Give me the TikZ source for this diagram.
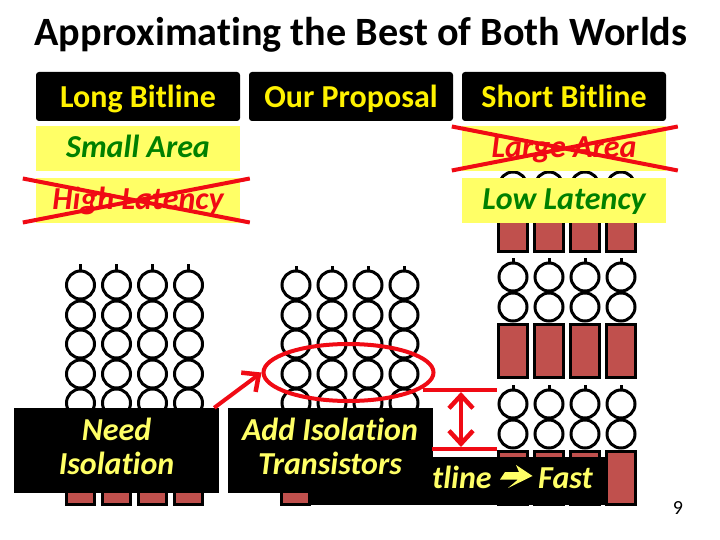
\documentclass[tikz,border=0pt]{standalone}
\usepackage{fontspec}
\setmainfont[RawFeature=-liga]{Carlito}
\usepackage{xcolor}
\usetikzlibrary{arrows.meta, shapes.geometric}
\definecolor{lemon}{HTML}{FFFF66}
\definecolor{cellred}{HTML}{C0504D}
\definecolor{crossred}{HTML}{F00A14}
\definecolor{okgreen}{HTML}{008000}

\begin{document}
\begin{tikzpicture}[
  x=1pt, y=-1pt,
  head/.style={fill=black, text=yellow, rounded corners=3pt, minimum width=204pt, minimum height=49pt, inner sep=0pt, text height=26pt, text depth=3pt, font=\fontsize{32}{36}\selectfont\bfseries},
  verdict/.style={fill=lemon, minimum width=204pt, minimum height=45pt, inner sep=0pt, text height=23pt, text depth=4pt, font=\fontsize{32}{36}\selectfont\bfseries\itshape},
  good/.style={verdict, text=okgreen},
  bad/.style={verdict, text=crossred},
  notebox/.style={fill=black, minimum width=205pt, minimum height=85pt, inner sep=0pt},
  note/.style={text=lemon, inner sep=0pt, align=center, font=\fontsize{32}{34}\selectfont\bfseries\itshape},
  cell/.style={draw=black, line width=3pt, circle, fill=white, minimum size=28pt, inner sep=0pt},
  sense/.style={draw=black, line width=3pt, fill=cellred, inner sep=0pt, minimum width=28.5pt},
  strike/.style={draw=crossred, line width=4pt},
  >={Straight Barb[length=13pt, width=24pt, line width=4.5pt]}
]
\useasboundingbox (0,0) rectangle (720,540);
\fill[white] (0,0) rectangle (720,540);

\node[font=\fontsize{40.2}{44}\selectfont\bfseries] (title) at (361,35) {Approximating the Best of Both Worlds};

% left column
\foreach \i/\x in {1/80.5,2/116.5,3/152.5,4/188.5} {
  \draw[line width=3pt] (\x,264) -- (\x,272);
  \foreach \j/\y in {1/285,2/315,3/344,4/374,5/403,6/433,7/462} {
    \node[cell] (l\i\j) at (\x,\y) {};
  }
  \node[sense, minimum height=28pt] (ls\i) at (\x,490) {};
}

% middle column
\foreach \i/\x in {1/296,2/332,3/368,4/404} {
  \draw[line width=3pt] (\x,266) -- (\x,272);
  \foreach \j/\y in {1/285,2/315,3/344,4/374,5/403,6/433} {
    \node[cell] (m\i\j) at (\x,\y) {};
  }
}

% right column
\foreach \i/\x in {1/513,2/549,3/585,4/621} {
  \node[cell] (r\i0) at (\x,186) {};
  \node[sense, minimum height=53pt] (ra\i) at (\x,225) {};
  \draw[line width=3pt] (\x,258) -- (\x,264);
  \node[cell] (r\i1) at (\x,277) {};
  \node[cell] (r\i2) at (\x,307) {};
  \node[sense, minimum height=53pt] (rb\i) at (\x,351) {};
  \draw[line width=3pt] (\x,385) -- (\x,391);
  \node[cell] (r\i3) at (\x,404) {};
  \node[cell] (r\i4) at (\x,434) {};
  \node[sense, minimum height=53pt] (rc\i) at (\x,477.5) {};
}

\node[head] (long) at (138,96.5) {Long Bitline};
\node[head] (ours) at (351,96.5) {Our Proposal};
\node[head] (short) at (564,96.5) {Short Bitline};

\node[good] (small) at (138,148.5) {Small Area};
\node[bad] (high) at (138,200.5) {High Latency};
\node[bad] (large) at (564,148.5) {Large Area};
\node[good] (low) at (564,200.5) {Low Latency};

\draw[strike] (high.west) ++(-13,-22) coordinate (ha) -- ++(227,44) coordinate (hb);
\draw[strike] (high.west) ++(-13,22) coordinate (hc) -- ++(227,-44) coordinate (hd);
\draw[strike] (large.west) ++(-10,-22) coordinate (la) -- ++(226,44) coordinate (lb);
\draw[strike] (large.west) ++(-10,22) coordinate (lc) -- ++(226,-44) coordinate (ld);

% black strip under the short bitline
\fill[black] (280,457) rectangle (637,505);
\node[sense, minimum height=28pt] (ms) at (295.5,490) {};
\node[sense, minimum height=53pt] (last) at (621,477.5) {};
\node[anchor=base west, text=lemon, inner sep=0pt, font=\fontsize{32}{36}\selectfont\bfseries\itshape] (tail) at (432,488) {tline};
\fill[lemon] (500,479.5) -- (505,472) -- (519,472) -- (516,465) -- (532.5,476) -- (508,488) -- (518,479.5) -- cycle;
\node[anchor=base west, text=lemon, inner sep=0pt, font=\fontsize{32}{36}\selectfont\bfseries\itshape] (fast) at (538,488) {Fast};

\node[notebox] (need) at (116.5,450.5) {};
\node[note] (needtext) at ([yshift=4.5pt]need.center) {Need\\Isolation};
\node[notebox] (add) at (330,450.5) {};
\node[note] (addtext) at ([yshift=4.5pt]add.center) {Add Isolation\\Transistors};

\node[draw=crossred, line width=4pt, ellipse, minimum width=170pt, minimum height=57pt, inner sep=0pt] (ring) at (348.5,372.5) {};
\draw[crossred, line width=4pt, ->] (need.north east) ++(-5,0) -- (ring.west);

\coordinate (upa) at (423,390);
\coordinate (upb) at (497,390);
\coordinate (lowa) at (432,449);
\coordinate (lowb) at (497,449);
\draw[crossred, line width=4pt] (upa) -- (upb);
\draw[crossred, line width=4pt] (lowa) -- (lowb);
\draw[crossred, line width=3.6pt, <->] (461,392) -- (461,447);

\node[font=\fontsize{20}{22}\selectfont] (page) at (678,508) {9};
\end{tikzpicture}
\end{document}
